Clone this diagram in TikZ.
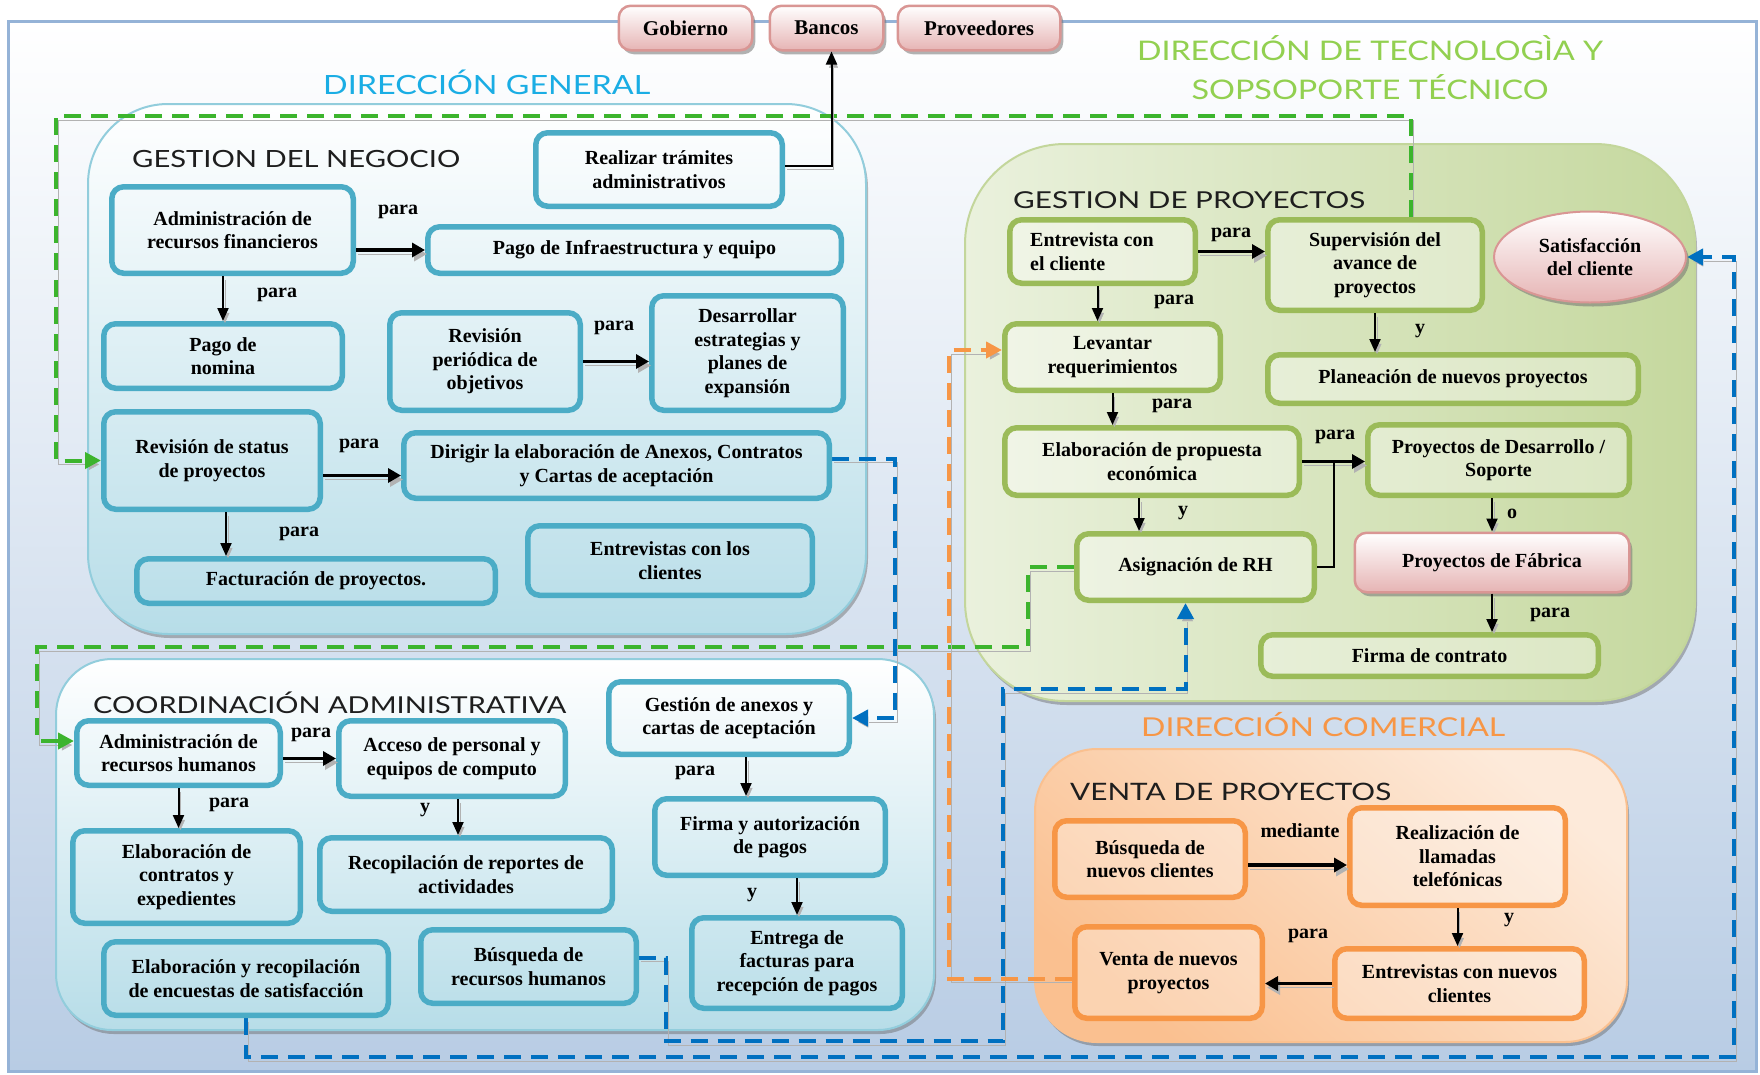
\documentclass[tikz,border=0pt]{standalone}
\usepackage{fontspec}
\usepackage{graphicx}
\setmainfont{Liberation Serif}
\newfontfamily\headfont{Lato}
\usetikzlibrary{arrows.meta,shapes.geometric,shadows,calc}
\pgfdeclarelayer{areas}
\pgfdeclarelayer{links}
\pgfsetlayers{areas,links,main}

\definecolor{framefill}{RGB}{184,204,228}
\definecolor{frameline}{RGB}{149,179,215}
\definecolor{dgfill}{RGB}{183,221,232}
\definecolor{dgline}{RGB}{146,205,220}
\definecolor{gpfillA}{RGB}{234,241,221}
\definecolor{gpfillB}{RGB}{197,216,158}
\definecolor{gpline}{RGB}{195,214,155}
\definecolor{vpfillA}{RGB}{253,234,218}
\definecolor{vpfillB}{RGB}{250,192,144}
\definecolor{vpline}{RGB}{250,192,143}
\definecolor{boxblue}{RGB}{75,172,198}
\definecolor{boxgreen}{RGB}{155,187,89}
\definecolor{boxorange}{RGB}{247,150,70}
\definecolor{pinkline}{RGB}{217,150,148}
\definecolor{pinkfill}{RGB}{230,180,180}
\definecolor{dashgreen}{RGB}{60,180,45}
\definecolor{dashblue}{RGB}{0,112,192}
\definecolor{dashorange}{RGB}{247,150,70}
\definecolor{headblue}{RGB}{26,173,228}
\definecolor{headgreen}{RGB}{146,208,80}
\definecolor{headorange}{RGB}{247,150,70}
\definecolor{headdark}{RGB}{30,30,30}

\begin{document}
\begin{tikzpicture}[x=1pt,y=-1pt,
  % a box given by the outer corners of its border
  span/.style n args={4}{at={({(#1+#3)/2},{(#2+#4)/2})},
    minimum width={(#3-#1-5.5)*1pt}, minimum height={(#4-#2-5.5)*1pt}},
  box/.style={rectangle, rounded corners=12pt, line width=5.5pt, align=center, inner sep=0pt,
    font=\bfseries\fontsize{20}{23.5}\selectfont},
  bluebox/.style={box, draw=boxblue},
  greenbox/.style={box, draw=boxgreen, fill=white, fill opacity=0.35, text opacity=1},
  orangebox/.style={box, draw=boxorange, fill=white, fill opacity=0.3, text opacity=1},
  pinkbox/.style={box, line width=2.5pt, draw=pinkline, top color=white, bottom color=pinkfill,
    drop shadow={shadow xshift=3pt, shadow yshift=-4pt, opacity=0.55, fill=black!55}},
  region/.style={line width=2pt, rounded corners=#1,
    drop shadow={shadow xshift=2pt, shadow yshift=-4pt, opacity=0.45, fill=black!60}},
  head/.style={anchor=base west, inner sep=0pt},
  lbl/.style={inner sep=0pt, font=\bfseries\fontsize{20}{23.5}\selectfont},
  lineshadow/.style={preaction={draw=black!30, transform canvas={xshift=2pt,yshift=-4pt}}},
  arr/.style={lineshadow, line width=2pt, -{Triangle[length=13pt,width=11pt]}},
  harr/.style={lineshadow, line width=3.5pt, -{Triangle[length=13pt,width=14pt]}},
  dsh/.style={lineshadow, line width=4pt, dash pattern=on 17pt off 10pt,
    -{Triangle[length=16pt,width=16pt]}},
]
\useasboundingbox (0,0) rectangle (1760,1074);

\begin{pgfonlayer}{areas}
% ---------- outer frame ----------
\path[top color=white, bottom color=framefill, draw=frameline, line width=3pt]
  (8,21) rectangle (1756,1071);

% ---------- areas ----------
\path[region=80pt, top color=white, bottom color=dgfill, draw=dgline]
  (88,104) rectangle (866,634);
\path[region=100pt, left color=gpfillA, right color=gpfillB, draw=gpline]
  (965,144) rectangle (1695,701);
\path[region=56pt, top color=white, bottom color=dgfill, draw=dgline]
  (56,659) rectangle (934,1030);
\path[region=62pt, top color=vpfillA, bottom color=vpfillB, shading angle=-40, draw=vpline]
  (1035,749) rectangle (1627,1042);
\end{pgfonlayer}

% ---------- headings ----------
\node[head, text=headblue, font=\headfont\fontsize{26.5}{30}\selectfont] (hdg) at (323,94)
  {\resizebox{327pt}{\height}{DIRECCIÓN GENERAL}};
\node[head, anchor=base, text=headgreen, font=\headfont\fontsize{27}{30}\selectfont] (hdt1) at (1370,60)
  {\resizebox{466pt}{\height}{DIRECCIÓN DE TECNOLOGÌA Y}};
\node[head, anchor=base, text=headgreen, font=\headfont\fontsize{27}{30}\selectfont] (hdt2) at (1370,99)
  {\resizebox{357pt}{\height}{SOPSOPORTE TÉCNICO}};
\node[head, text=headorange, font=\headfont\fontsize{26}{30}\selectfont] (hdc) at (1141,736)
  {\resizebox{364pt}{\height}{DIRECCIÓN COMERCIAL}};
\node[head, text=headdark, font=\headfont\fontsize{23.7}{28}\selectfont] (hgn) at (132,167)
  {\resizebox{328pt}{\height}{GESTION DEL NEGOCIO}};
\node[head, text=headdark, font=\headfont\fontsize{23.3}{28}\selectfont] (hgp) at (1013,208)
  {\resizebox{352pt}{\height}{GESTION DE PROYECTOS}};
\node[head, text=headdark, font=\headfont\fontsize{23.3}{28}\selectfont] (hca) at (93,713)
  {\resizebox{473pt}{\height}{COORDINACIÓN ADMINISTRATIVA}};
\node[head, text=headdark, font=\headfont\fontsize{24}{28}\selectfont] (hvp) at (1070,800)
  {\resizebox{321pt}{\height}{VENTA DE PROYECTOS}};

% ---------- top boxes ----------
\node[pinkbox, font=\bfseries\fontsize{21}{24}\selectfont, span={616}{3}{755}{53}] (gob) {Gobierno};
\node[pinkbox, font=\bfseries\fontsize{21}{24}\selectfont, span={767}{3}{886}{53}] (ban) {Bancos};
\node[pinkbox, font=\bfseries\fontsize{21}{24}\selectfont, span={895}{3}{1063}{53}] (prov) {Proveedores};

% ---------- Gestión del negocio ----------
\node[bluebox, span={533}{130}{785}{209}] (realizar) {Realizar trámites\\administrativos};
\node[bluebox, span={109}{184}{356}{276}] (adminfin) {Administración de\\recursos financieros};
\node[bluebox, span={425}{224}{844}{276}] (pagoinfra) {Pago de Infraestructura y equipo};
\node[bluebox, span={101}{321}{345}{391}] (nomina) {Pago de\\nomina};
\node[bluebox, span={387}{310}{583}{413}] (revper) {Revisión\\periódica de\\objetivos};
\node[bluebox, span={649}{293}{846}{413}] (desarr) {Desarrollar\\estrategias y\\planes de\\expansión};
\node[bluebox, span={101}{409}{323}{512}] (status) {Revisión de status\\de proyectos};
\node[bluebox, span={401}{430}{832}{501}] (dirigir) {Dirigir la elaboración de Anexos, Contratos\\y Cartas de aceptación};
\node[bluebox, span={134}{556}{498}{606}] (factura) {Facturación de proyectos.};
\node[bluebox, span={525}{523}{815}{598}] (entrevcli) {Entrevistas con los\\clientes};

% ---------- Gestión de proyectos ----------
\node[greenbox, span={1007}{217}{1198}{286}] (entrev) {};
\node[lbl, anchor=west, align=left] (entrevt) at (entrev.west) [xshift=23pt] {Entrevista con\\el cliente};
\node[greenbox, span={1265}{217}{1485}{313}] (superv) {Supervisión del\\avance de\\proyectos};
\node[pinkbox, ellipse, minimum width=192pt, minimum height=91pt, line width=2pt] (satisf) at (1590,257)
  {Satisfacción\\del cliente};
\node[greenbox, span={1002}{321}{1223}{393}] (levantar) {Levantar\\requerimientos};
\node[greenbox, span={1265}{352}{1641}{406}] (planea) {Planeación de nuevos proyectos};
\node[greenbox, span={1002}{425}{1302}{498}] (elab) {Elaboración de propuesta\\económica};
\node[greenbox, span={1365}{422}{1632}{498}] (pds) {Proyectos de Desarrollo /\\Soporte};
\node[greenbox, span={1074}{531}{1317}{603}] (asign) {Asignación de RH};
\node[pinkbox, span={1352}{530}{1632}{595}] (fabrica) {Proyectos de Fábrica};
\node[greenbox, span={1258}{632}{1601}{679}] (firmac) {Firma de contrato};

% ---------- Coordinación administrativa ----------
\node[bluebox, span={74}{718}{283}{788}] (adminrh) {Administración de\\recursos humanos};
\node[bluebox, span={336}{718}{568}{799}] (acceso) {Acceso de personal y\\equipos de computo};
\node[bluebox, span={606}{679}{852}{757}] (gestion) {Gestión de anexos y\\cartas de aceptación};
\node[bluebox, span={70}{828}{303}{926}] (contratos) {Elaboración de\\contratos y\\expedientes};
\node[bluebox, span={317}{835}{615}{914}] (recop) {Recopilación de reportes de\\actividades};
\node[bluebox, span={652}{796}{888}{878}] (firmap) {Firma y autorización\\de pagos};
\node[bluebox, span={689}{915}{905}{1011}] (entrega) {Entrega de\\facturas para\\recepción de pagos};
\node[bluebox, span={101}{939}{391}{1018}] (encuestas) {Elaboración y recopilación\\de encuestas de satisfacción};
\node[bluebox, span={418}{927}{639}{1006}] (busqrh) {Búsqueda de\\recursos humanos};

% ---------- Venta de proyectos ----------
\node[orangebox, span={1052}{818}{1248}{900}] (busqcli) {Búsqueda de\\nuevos clientes};
\node[orangebox, span={1347}{805}{1568}{908}] (llam) {Realización de\\llamadas\\telefónicas};
\node[orangebox, span={1072}{924}{1265}{1021}] (venta) {Venta de nuevos\\proyectos};
\node[orangebox, span={1332}{946}{1587}{1021}] (entrevn) {Entrevistas con nuevos\\clientes};

% ---------- dashed links between areas ----------
\coordinate (g1) at (56,116);
\coordinate (g2a) at (1028,647);
\coordinate (g2b) at (37,647);
\coordinate (b1) at (895,600);
\coordinate (b2a) at (666,1041);
\coordinate (b2b) at (1003,689);
\coordinate (b3) at (1734,1057);
\coordinate (o1) at (949,600);
\begin{pgfonlayer}{links}
\draw[dsh, draw=dashgreen] ([xshift=36pt]superv.north) |- (g1) |- (status.west);
\draw[dsh, draw=dashgreen] (asign.west) -| (g2a) -- (g2b) |- ([yshift=12pt]adminrh.west);
\draw[dsh, draw=dashblue] ([yshift=7pt]dirigir.east) -| (b1) |- (gestion.east);
\draw[dsh, draw=dashblue] ([yshift=9pt]busqrh.east) -| (b2a) -| (b2b) -| ([xshift=-10pt]asign.south);
\draw[dsh, draw=dashblue] (encuestas.south) |- (b3) |- (satisf.east);
\draw[dsh, draw=dashorange] ([yshift=-6pt]venta.west) -| (o1) |- ([yshift=7pt]levantar.west);
\end{pgfonlayer}

% ---------- solid arrows ----------
\draw[arr] ([yshift=4pt]realizar.east) -| ([xshift=5pt]ban.south);
\draw[harr] (adminfin.east |- pagoinfra.west) -- (pagoinfra.west);
\draw[arr] (nomina.north |- adminfin.south) -- (nomina.north);
\draw[harr] (revper.east) -- (revper.east -| desarr.west);
\draw[harr] ([yshift=-15pt]status.east) -- ([yshift=-15pt]status.east -| dirigir.west);
\draw[arr] ([xshift=14pt]status.south) -- ([xshift=14pt]status.south |- factura.north);

\draw[harr] (entrev.east) -- (entrev.east -| superv.west);
\draw[arr] ([xshift=-5pt]entrev.south) -- ([xshift=-5pt]entrev.south |- levantar.north);
\draw[arr] (superv.south) -- (superv.south |- planea.north);
\draw[arr] (levantar.south) -- (levantar.south |- elab.north);
\draw[harr] (elab.east) -- (elab.east -| pds.west);
\draw[line width=2pt] (asign.east) -| ($(elab.east)!0.5!(pds.west)$);
\draw[arr] ([xshift=-13pt]elab.south) -- ([xshift=-13pt]elab.south |- asign.north);
\draw[arr] (fabrica.north |- pds.south) -- (fabrica.north);
\draw[arr] (fabrica.south) -- (fabrica.south |- firmac.north);

\draw[harr] (adminrh.east |- acceso.west) -- (acceso.west);
\draw[arr] (adminrh.south) -- (adminrh.south |- contratos.north);
\draw[arr] ([xshift=6pt]acceso.south) -- ([xshift=6pt]acceso.south |- recop.north);
\draw[arr] ([xshift=17pt]gestion.south) -- ([xshift=17pt]gestion.south |- firmap.north);
\draw[arr] (entrega.north |- firmap.south) -- (entrega.north);

\draw[harr] ([yshift=-6pt]busqcli.east) -- ([yshift=-6pt]busqcli.east -| llam.west);
\draw[arr] (llam.south) -- (llam.south |- entrevn.north);
\draw[harr] (entrevn.west) -- (entrevn.west -| venta.east);

% ---------- connector words ----------
\node[lbl] (l1) at (398,212) {para};
\node[lbl] (l2) at (277,295) {para};
\node[lbl] (l3) at (614,328) {para};
\node[lbl] (l4) at (359,446) {para};
\node[lbl] (l5) at (299,534) {para};
\node[lbl] (l6) at (1231,235) {para};
\node[lbl] (l7) at (1174,302) {para};
\node[lbl] (l8) at (1420,331) {y};
\node[lbl] (l9) at (1172,406) {para};
\node[lbl] (l10) at (1335,437) {para};
\node[lbl] (l11) at (1183,513) {y};
\node[lbl] (l12) at (1512,514) {o};
\node[lbl] (l13) at (1550,615) {para};
\node[lbl] (l14) at (311,735) {para};
\node[lbl] (l15) at (229,805) {para};
\node[lbl] (l16) at (425,810) {y};
\node[lbl] (l17) at (695,773) {para};
\node[lbl] (l18) at (752,895) {y};
\node[lbl] (l19) at (1300,831) {mediante};
\node[lbl] (l20) at (1509,920) {y};
\node[lbl] (l21) at (1308,936) {para};
\end{tikzpicture}
\end{document}
